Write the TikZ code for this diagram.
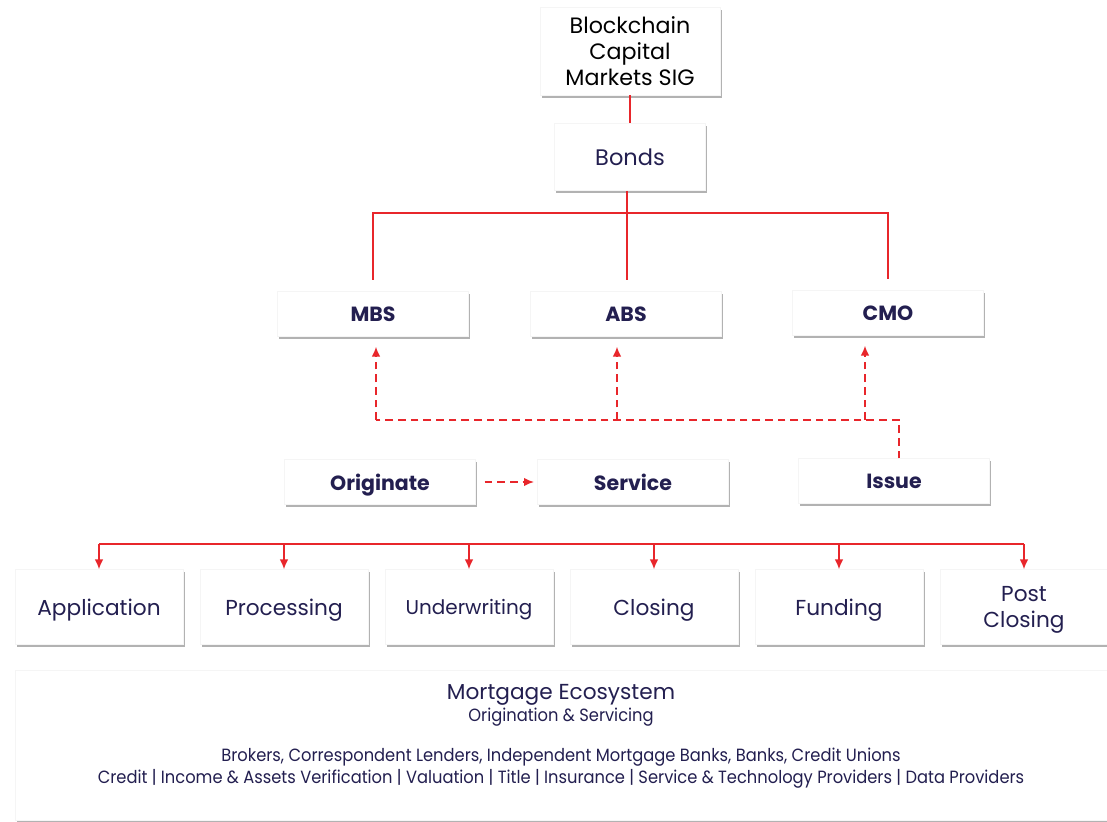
\documentclass[tikz,border=0pt]{standalone}
\usepackage{fontspec}
\setmainfont{Poppins}
\newfontfamily\condfont{Poppins}[FakeStretch=0.92]
\usetikzlibrary{arrows.meta,shadows,calc}
\definecolor{sigred}{HTML}{E8262B}
\definecolor{signavy}{HTML}{231F50}
\tikzset{
  box/.style={fill=white, draw=black!4, align=center, text=signavy, inner sep=2pt,
    drop shadow={shadow xshift=1.3pt, shadow yshift=-1.8pt, opacity=0.4, fill=black!75}},
  topbox/.style={box, minimum width=4.5cm, minimum height=2.2cm, text=black,
    font=\fontsize{15.8}{18.5}\selectfont},
  midbox/.style={box, minimum width=4.78cm, minimum height=1.12cm,
    font=\bfseries\fontsize{14.6}{16}\selectfont, text depth=0pt},
  stepbox/.style={box, minimum width=4.2cm, minimum height=1.87cm,
    font=\fontsize{15.4}{18.5}\selectfont, text depth=0pt},
  ecotext/.style={text=signavy, font=\condfont\fontsize{12.6}{13}\selectfont},
  link/.style={draw=sigred, line width=1.1pt},
  flow/.style={draw=sigred, line width=1.1pt, dash pattern=on 5.5pt off 3.5pt},
  tip/.style={-{Latex[length=7pt,width=6pt]}},
}
\begin{document}
\begin{tikzpicture}[x=0.025cm, y=-0.025cm]
   \useasboundingbox[fill=white] (0,0) rectangle (1107,822);

   % top of the tree
   \node[topbox] (sig) at (630,51) {Blockchain\\Capital\\Markets SIG};
   \node[box, minimum width=3.78cm, minimum height=1.68cm,
         font=\fontsize{16}{17}\selectfont, text depth=0pt] (bonds) at (630,157) {Bonds};
   \draw[link] (sig) -- (bonds);

   \node[midbox] (mbs) at (373,314) {MBS};
   \node[midbox] (abs) at (626,314) {ABS};
   \node[midbox] (cmo) at (888,313) {CMO};

   \coordinate (split) at (627,213);
   \draw[link] (bonds.south -| split) -- (split);
   \draw[link, shorten >=0.28cm] (split) -| (mbs.north);
   \draw[link, shorten >=0.28cm] (split) -- (split |- abs.north);
   \draw[link, shorten >=0.28cm] (split) -| (cmo.north);

   % securitisation
   \node[midbox] (orig) at (380,482) {Originate};
   \node[midbox] (serv) at (633,482) {Service};
   \node[midbox] (issue) at (894,481) {Issue};

   \coordinate (gather) at (899,420);
   \draw[flow] (issue.north -| gather) -- (gather) -- ([xshift=0.075cm]mbs.south |- gather);
   \draw[flow, tip, shorten >=0.25cm] ([xshift=0.075cm]mbs.south |- gather) -- ([xshift=0.075cm]mbs.south);
   \draw[flow, tip, shorten >=0.25cm] ([xshift=-0.225cm]abs.south |- gather) -- ([xshift=-0.225cm]abs.south);
   \draw[flow, tip, shorten >=0.25cm] ([xshift=-0.575cm]cmo.south |- gather) -- ([xshift=-0.575cm]cmo.south);
   \draw[flow, tip, shorten <=0.22cm, shorten >=0.08cm] (orig.east) -- (serv.west);

   % mortgage steps
   \node[stepbox] (app) at (99,607) {Application};
   \node[stepbox] (proc) at (284,607) {Processing};
   \node[stepbox, font=\fontsize{14.2}{15}\selectfont] (under) at (469,607) {Underwriting};
   \node[stepbox] (close) at (654,607) {Closing};
   \node[stepbox] (fund) at (839,607) {Funding};
   \node[stepbox] (post) at (1024,607) {Post\\Closing};

   \coordinate (feed) at (98,544);
   \draw[link] (app.north |- feed) -- (post.north |- feed);
   \foreach \step in {app,proc,under,close,fund,post}
     \draw[link, tip] (\step.north |- feed) -- (\step.north);

   % ecosystem panel
   \node[box, minimum width=27.3cm, minimum height=3.75cm] (eco) at (561,745) {};
   \node[text=signavy, font=\fontsize{15.4}{16}\selectfont] (ecotitle) at (561,694.5) {Mortgage Ecosystem};
   \node[ecotext] (ecosub) at (561,717) {Origination \& Servicing};
   \node[ecotext] (ecoplayers) at (561,757)
     {Brokers, Correspondent Lenders, Independent Mortgage Banks, Banks, Credit Unions};
   \node[ecotext] (ecoproviders) at (561,779)
     {Credit | Income \& Assets Verification | Valuation | Title | Insurance | Service \& Technology Providers | Data Providers};
\end{tikzpicture}
\end{document}
